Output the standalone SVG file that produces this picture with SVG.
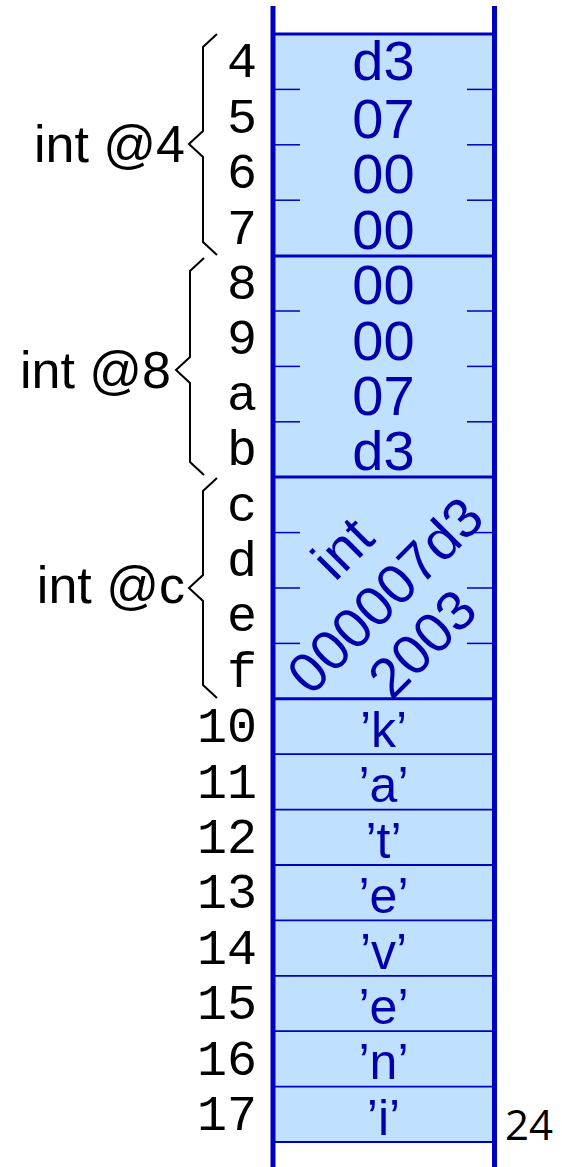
<svg xmlns="http://www.w3.org/2000/svg" width="562" height="1167" viewBox="0 0 562 1167">
  <style>
    .addr { font-family: "Liberation Mono", "Courier New", monospace; font-size: 50px; fill: #000; text-anchor: end; }
    .val { font-family: "Liberation Sans", Arial, sans-serif; font-size: 56px; fill: #0000AA; text-anchor: middle; }
    .chr { font-family: "Liberation Sans", Arial, sans-serif; font-size: 50px; fill: #0000AA; text-anchor: middle; }
    .lbl { font-family: "Liberation Sans", Arial, sans-serif; font-size: 52px; fill: #000; text-anchor: end; }
    .size { font-family: "Open Sans", sans-serif; font-size: 42px; fill: #000; }
    .brace { fill: none; stroke: #000; stroke-width: 2; stroke-linejoin: miter; }
    .rail { stroke: #0000C0; stroke-width: 5; }
    .grp { stroke: #0000C0; stroke-width: 3; }
    .sep { stroke: #0000C0; stroke-width: 1.8; }
    .tick { stroke: #0000C0; stroke-width: 1.5; }
  </style>

  <!-- memory column background -->
  <rect x="273" y="34" width="221" height="1108" fill="#C0E0FF"/>

  <g id="separators">
    <!-- int blocks -->
    <line class="grp" x1="273" y1="34" x2="494" y2="34"/>
    <line class="grp" x1="273" y1="256" x2="494" y2="256"/>
    <line class="grp" x1="273" y1="477" x2="494" y2="477"/>
    <line class="grp" x1="273" y1="698.8" x2="494" y2="698.8"/>
    <!-- byte ticks inside int blocks -->
    <g class="tick">
      <line x1="275" y1="89.4" x2="300" y2="89.4"/><line x1="467" y1="89.4" x2="492" y2="89.4"/>
      <line x1="275" y1="144.8" x2="300" y2="144.8"/><line x1="467" y1="144.8" x2="492" y2="144.8"/>
      <line x1="275" y1="200.2" x2="300" y2="200.2"/><line x1="467" y1="200.2" x2="492" y2="200.2"/>
      <line x1="275" y1="311" x2="300" y2="311"/><line x1="467" y1="311" x2="492" y2="311"/>
      <line x1="275" y1="366.4" x2="300" y2="366.4"/><line x1="467" y1="366.4" x2="492" y2="366.4"/>
      <line x1="275" y1="421.8" x2="300" y2="421.8"/><line x1="467" y1="421.8" x2="492" y2="421.8"/>
      <line x1="275" y1="532.6" x2="300" y2="532.6"/><line x1="467" y1="532.6" x2="492" y2="532.6"/>
      <line x1="275" y1="588" x2="300" y2="588"/><line x1="467" y1="588" x2="492" y2="588"/>
      <line x1="275" y1="643.4" x2="300" y2="643.4"/><line x1="467" y1="643.4" x2="492" y2="643.4"/>
    </g>
    <!-- char rows -->
    <g class="sep">
      <line x1="273" y1="754.2" x2="494" y2="754.2"/>
      <line x1="273" y1="809.6" x2="494" y2="809.6"/>
      <line x1="273" y1="865" x2="494" y2="865"/>
      <line x1="273" y1="920.4" x2="494" y2="920.4"/>
      <line x1="273" y1="975.8" x2="494" y2="975.8"/>
      <line x1="273" y1="1031.2" x2="494" y2="1031.2"/>
      <line x1="273" y1="1086.6" x2="494" y2="1086.6"/>
      <line x1="273" y1="1142" x2="494" y2="1142"/>
    </g>
  </g>

  <!-- column rails -->
  <line class="rail" x1="273" y1="6" x2="273" y2="1167"/>
  <line class="rail" x1="494.5" y1="6" x2="494.5" y2="1167"/>

  <g id="addresses">
    <text class="addr" x="257" y="77.4">4</text>
    <text class="addr" x="257" y="132.8">5</text>
    <text class="addr" x="257" y="188.2">6</text>
    <text class="addr" x="257" y="243.6">7</text>
    <text class="addr" x="257" y="299">8</text>
    <text class="addr" x="257" y="354.4">9</text>
    <text class="addr" x="257" y="409.8">a</text>
    <text class="addr" x="257" y="465.2">b</text>
    <text class="addr" x="257" y="520.6">c</text>
    <text class="addr" x="257" y="576">d</text>
    <text class="addr" x="257" y="631.4">e</text>
    <text class="addr" x="257" y="686.8">f</text>
    <text class="addr" x="257" y="742.2">10</text>
    <text class="addr" x="257" y="797.6">11</text>
    <text class="addr" x="257" y="853">12</text>
    <text class="addr" x="257" y="908.4">13</text>
    <text class="addr" x="257" y="963.8">14</text>
    <text class="addr" x="257" y="1019.2">15</text>
    <text class="addr" x="257" y="1074.6">16</text>
    <text class="addr" x="257" y="1130">17</text>
  </g>

  <g id="int-at-4">
    <text class="val" x="383.5" y="80">d3</text>
    <text class="val" x="383.5" y="138">07</text>
    <text class="val" x="383.5" y="193.4">00</text>
    <text class="val" x="383.5" y="248.8">00</text>
  </g>

  <g id="int-at-8">
    <text class="val" x="383.5" y="304.2">00</text>
    <text class="val" x="383.5" y="359.6">00</text>
    <text class="val" x="383.5" y="415">07</text>
    <text class="val" x="383.5" y="470.4">d3</text>
  </g>

  <g id="int-at-c" transform="translate(385 595) rotate(-45)">
    <text class="val" x="3" y="-44">int</text>
    <text class="val" x="0" y="19.5">000007d3</text>
    <text class="val" x="-8" y="80">2003</text>
  </g>

  <g id="chars">
    <text class="chr" x="383.5" y="747">’k’</text>
    <text class="chr" x="383.5" y="802.4">’a’</text>
    <text class="chr" x="383.5" y="857.8">’t’</text>
    <text class="chr" x="383.5" y="913.2">’e’</text>
    <text class="chr" x="383.5" y="968.6">’v’</text>
    <text class="chr" x="383.5" y="1024">’e’</text>
    <text class="chr" x="383.5" y="1079.4">’n’</text>
    <text class="chr" x="383.5" y="1134.8">’i’</text>
  </g>

  <g id="brace-4">
    <path class="brace" d="M217 34 L203 47 L203 131 L189 144 L203 157 L203 242 L217 255"/>
    <text class="lbl" x="185" y="162">int @4</text>
  </g>

  <g id="brace-8">
    <path class="brace" d="M204 258 L190 271 L190 357 L176 370 L190 383 L190 462 L204 475"/>
    <text class="lbl" x="171" y="388">int @8</text>
  </g>

  <g id="brace-c">
    <path class="brace" d="M217 478 L203 491 L203 575 L189 588 L203 601 L203 685 L217 698"/>
    <text class="lbl" x="185" y="603">int @c</text>
  </g>

  <g id="size">
    <text class="size" x="505" y="1140">24</text>
  </g>
</svg>
